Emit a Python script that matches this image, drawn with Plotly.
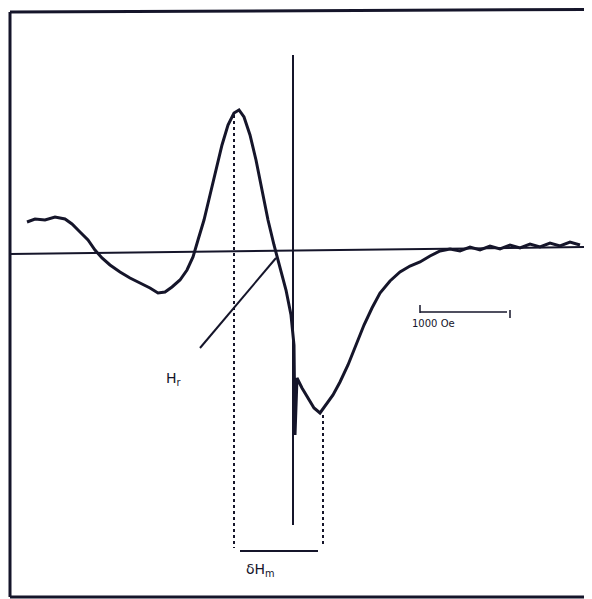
import plotly.graph_objects as go

# Spectrum trace (field in arbitrary horizontal units, signal in arbitrary units)
field = [27, 35, 45, 55, 65, 72, 80, 88, 95, 102, 110, 120, 130, 140, 150, 158, 165, 172, 180, 187,
         193, 198, 204, 210, 216, 222, 228, 234, 239, 244, 250, 256, 262, 268, 274, 280, 286, 291,
         294, 295, 297, 302, 308, 314, 320, 326, 333, 340, 348, 356, 364, 372, 380, 390, 400, 410,
         420, 430, 440, 450, 460, 470, 480, 490, 500, 510, 520, 530, 540, 550, 560, 570, 580]
signal = [30, 33, 32, 35, 33, 28, 20, 12, 2, -6, -13, -20, -26, -31, -36, -41, -40, -35, -28, -18,
          -5, 12, 32, 57, 82, 107, 127, 139, 142, 135, 117, 92, 62, 32, 7, -16, -38, -63,
          -93, -183, -126, -136, -146, -156, -161, -153, -143, -130, -113, -93, -73, -56, -41, -29, -20, -14,
          -10, -4, 1, 3, 1, 5, 2, 6, 3, 7, 4, 8, 5, 9, 6, 10, 7]

# Marker positions
h_res_field = 293
peak_field = 234
trough_field = 323
scale_label = "1000 Oe"

INK = "#15152a"

fig = go.Figure()
fig.add_trace(go.Scatter(x=field, y=signal, mode="lines",
                         line=dict(color=INK, width=3), hoverinfo="skip", showlegend=False))

shapes = [
    # frame (left, top, bottom)
    dict(type="line", x0=10, x1=10, y0=240, y1=-345, line=dict(color=INK, width=3)),
    dict(type="line", x0=10, x1=592, y0=240, y1=242.5, line=dict(color=INK, width=3)),
    dict(type="line", x0=10, x1=592, y0=-345, y1=-345, line=dict(color=INK, width=3)),
    # baseline
    dict(type="line", x0=10, x1=592, y0=-2, y1=5, line=dict(color=INK, width=2)),
    # vertical resonance line
    dict(type="line", x0=h_res_field, x1=h_res_field, y0=197, y1=-273, line=dict(color=INK, width=2)),
    # dotted lines from peak and trough
    dict(type="line", x0=peak_field, x1=peak_field, y0=137, y1=-296, line=dict(color=INK, width=2, dash="dot")),
    dict(type="line", x0=trough_field, x1=trough_field, y0=-163, y1=-293, line=dict(color=INK, width=2, dash="dot")),
    # width bar
    dict(type="line", x0=240, x1=318, y0=-299, y1=-299, line=dict(color=INK, width=2)),
    # pointer line to H_r
    dict(type="line", x0=200, x1=276, y0=-96, y1=-6, line=dict(color=INK, width=2)),
    # scale bar
    dict(type="line", x0=420, x1=507, y0=-60, y1=-60, line=dict(color=INK, width=1.5)),
    dict(type="line", x0=420, x1=420, y0=-53, y1=-61, line=dict(color=INK, width=1.5)),
    dict(type="line", x0=510, x1=510, y0=-58, y1=-66, line=dict(color=INK, width=1.5)),
]

annotations = [
    dict(x=174, y=-127, text="H<sub>r</sub>", showarrow=False, font=dict(size=14, color=INK, family="DejaVu Sans")),
    dict(x=260, y=-318, text="δH<sub>m</sub>", showarrow=False, font=dict(size=14, color=INK, family="DejaVu Sans")),
    dict(x=433, y=-71, text=scale_label, showarrow=False, font=dict(size=10, color=INK, family="DejaVu Sans")),
]

# The page body adds an 8px offset, so the figure is sized to fit the window and
# the axis ranges are chosen so that one data unit equals one pixel.
fig.update_layout(
    width=584, height=591,
    margin=dict(l=0, r=0, t=0, b=0),
    paper_bgcolor="white", plot_bgcolor="white",
    xaxis=dict(range=[8, 592], visible=False, fixedrange=True),
    yaxis=dict(range=[-347, 244], visible=False, fixedrange=True),
    shapes=shapes, annotations=annotations, showlegend=False,
)

fig.write_html("out.html")
